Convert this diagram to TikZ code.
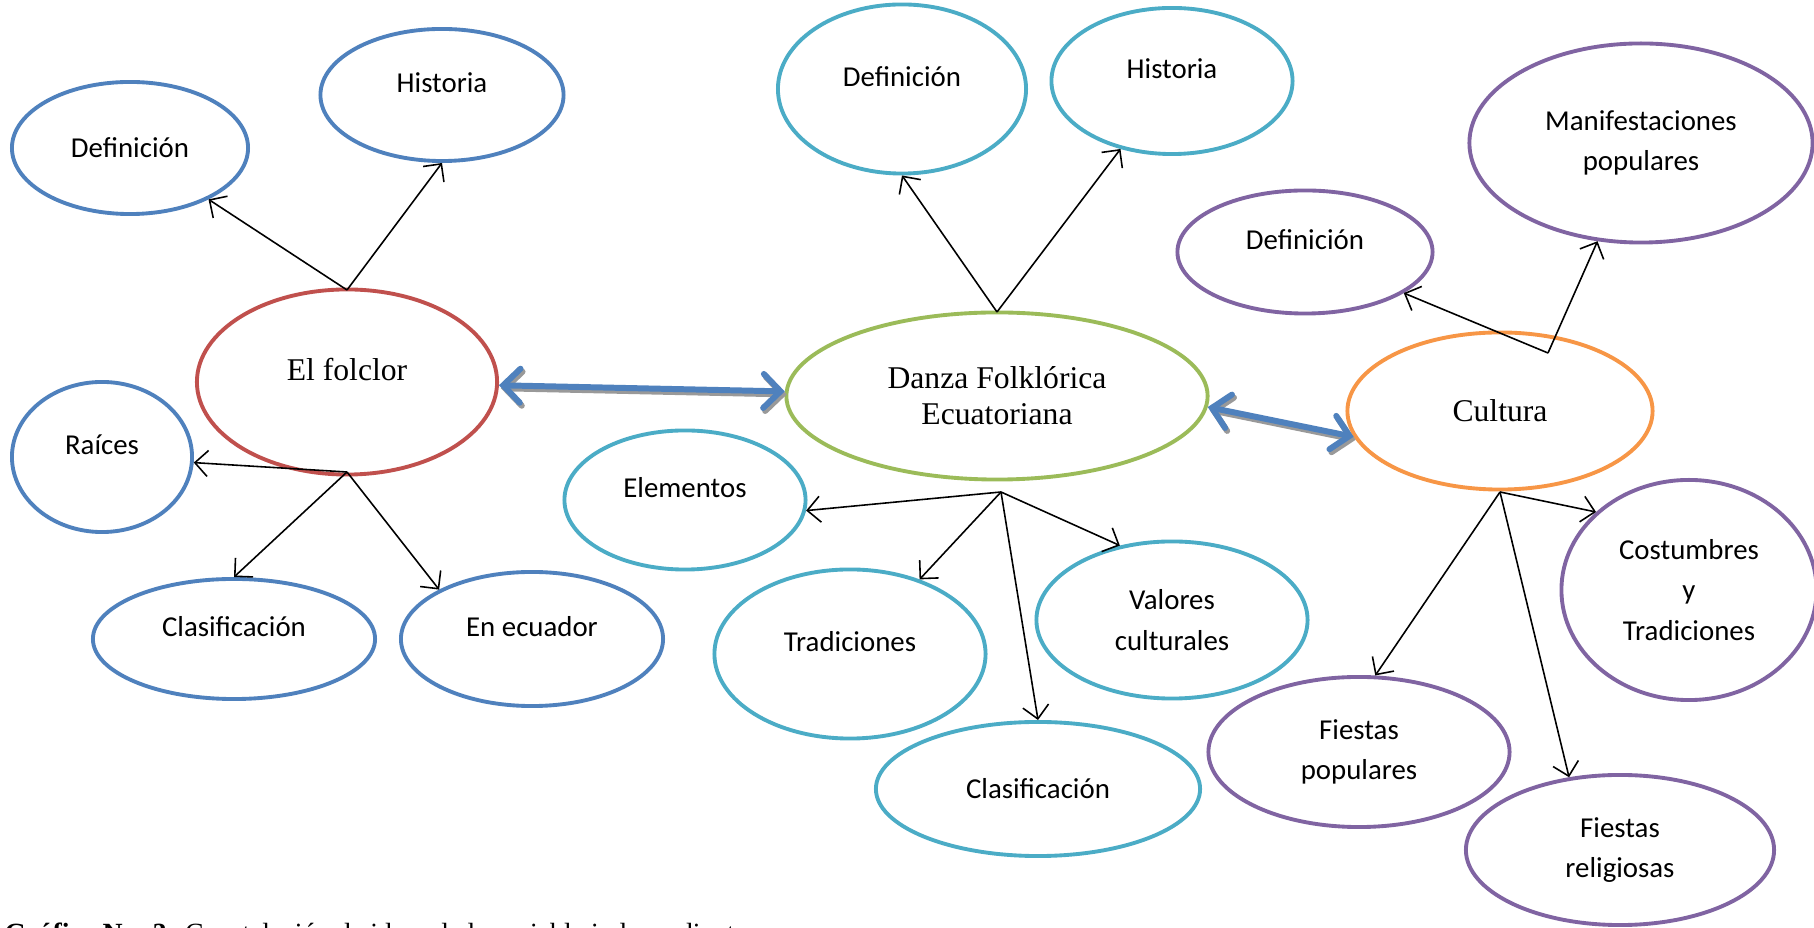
\documentclass[tikz,border=0pt]{standalone}
\usepackage{fontspec}
\setmainfont{Liberation Serif}
\newfontfamily\calibri{Carlito}
\usepackage{tikz}
\usetikzlibrary{shapes.geometric, arrows.meta}
\definecolor{azul}{HTML}{4F81BD}
\definecolor{rojo}{HTML}{C0504D}
\definecolor{verde}{HTML}{9BBB59}
\definecolor{turquesa}{HTML}{4BACC6}
\definecolor{morado}{HTML}{8064A2}
\definecolor{naranja}{HTML}{F79646}
\tikzset{
	idea/.style={ellipse, draw, line width=1.1pt, inner sep=0pt, align=center,
		font=\calibri\fontsize{8.2}{11.6}\selectfont},
	tema/.style={idea, font=\fontsize{9}{10.2}\selectfont},
	raised/.style={text depth=0.25cm},
	link/.style={line width=0.45pt, -{Straight Barb[length=1.3mm,width=2.6mm]}},
	bond/.style={azul, line width=1.7pt, line cap=round,
		{Straight Barb[length=1.7mm,width=3.4mm,line cap=round]}-{Straight Barb[length=1.7mm,width=3.4mm,line cap=round]}},
	bondshadow/.style={bond, black!40, transform canvas={shift={(0.02cm,-0.03cm)}}}
}
\begin{document}
\begin{tikzpicture}[x=0.01cm,y=-0.01cm]
	\clip (0,0) rectangle (1814,928);
	\fill[white] (0,0) rectangle (1814,928);

	\node[tema, rojo, minimum width=3cm, minimum height=1.85cm, raised, text=black](folclor) at (347,382){El folclor};
	\node[tema, verde, minimum width=4.21cm, minimum height=1.67cm, text=black](danza) at (997,396){Danza Folklórica\\Ecuatoriana};
	\node[tema, naranja, minimum width=3.05cm, minimum height=1.57cm, text=black](cultura) at (1500,411){Cultura};

	\node[idea, azul, minimum width=2.36cm, minimum height=1.32cm, text=black](defA) at (130,148){Definición};
	\node[idea, azul, minimum width=2.43cm, minimum height=1.32cm, raised, text=black](hisA) at (442,95){Historia};
	\node[idea, azul, minimum width=1.8cm, minimum height=1.5cm, raised, text=black](raices) at (102,457){Raíces};
	\node[idea, azul, minimum width=2.82cm, minimum height=1.2cm, raised, text=black](clasA) at (234,639){Clasificación};
	\node[idea, azul, minimum width=2.62cm, minimum height=1.34cm, raised, text=black](ecuador) at (532,639){En ecuador};

	\node[idea, turquesa, minimum width=2.48cm, minimum height=1.69cm, raised, text=black](defB) at (902,89){Definición};
	\node[idea, turquesa, minimum width=2.41cm, minimum height=1.46cm, raised, text=black](hisB) at (1172,81){Historia};
	\node[idea, turquesa, minimum width=2.41cm, minimum height=1.39cm, raised, text=black](elem) at (685,500){Elementos};
	\node[idea, turquesa, minimum width=2.71cm, minimum height=1.69cm, raised, text=black](trad) at (850,654){Tradiciones};
	\node[idea, turquesa, minimum width=2.71cm, minimum height=1.57cm, text=black](valores) at (1172,620){Valores\\culturales};
	\node[idea, turquesa, minimum width=3.24cm, minimum height=1.34cm, text=black](clasB) at (1038,789){Clasificación};

	\node[idea, morado, minimum width=2.55cm, minimum height=1.23cm, raised, text=black](defC) at (1305,252){Definición};
	\node[idea, morado, minimum width=3.43cm, minimum height=1.99cm, text=black](manif) at (1641,143){Manifestaciones\\populares};
	\node[idea, morado, minimum width=2.55cm, minimum height=2.2cm, text=black](costum) at (1689,590){Costumbres\\y\\Tradiciones};
	\node[idea, morado, minimum width=3.01cm, minimum height=1.5cm, text=black](fpop) at (1359,752){Fiestas\\populares};
	\node[idea, morado, minimum width=3.08cm, minimum height=1.5cm, text=black](frel) at (1620,850){Fiestas\\religiosas};

	\coordinate(fT) at (347,290);
	\coordinate(fB) at (347,472);
	\coordinate(dT) at (997,312);
	\coordinate(dB) at (1001,492);
	\coordinate(cT) at (1548,353);
	\coordinate(cB) at (1500,492);

	\draw[link] (fT)--(defA);
	\draw[link] (fT)--(hisA.south);
	\draw[link] (fB)--(raices);
	\draw[link] (fB)--(clasA.north);
	\draw[link] (fB)--(ecuador.152);

	\draw[link] (dT)--(defB.south);
	\draw[link] (dT)--(hisB);
	\draw[link] (dB)--(elem.355);
	\draw[link] (dB)--(trad.47);
	\draw[link] (dB)--(valores.125);
	\draw[link] (dB)--(clasB.north);

	\draw[link] (cT)--(defC);
	\draw[link] (cT)--(manif);
	\draw[link] (cB)--(costum.140);
	\draw[link] (cB)--(fpop.78);
	\draw[link] (cB)--(frel.125);

	\draw[bondshadow] (folclor)--(danza);
	\draw[bond] (folclor)--(danza);
	\draw[bondshadow] (danza.357)--(cultura.190);
	\draw[bond] (danza.357)--(cultura.190);

	\node[anchor=base west, inner sep=0pt, font=\fontsize{7.9}{10}\selectfont](caption) at (4,943){\textbf{Gráfico No. 3:} Constelación de ideas de la variable independiente};
\end{tikzpicture}
\end{document}
